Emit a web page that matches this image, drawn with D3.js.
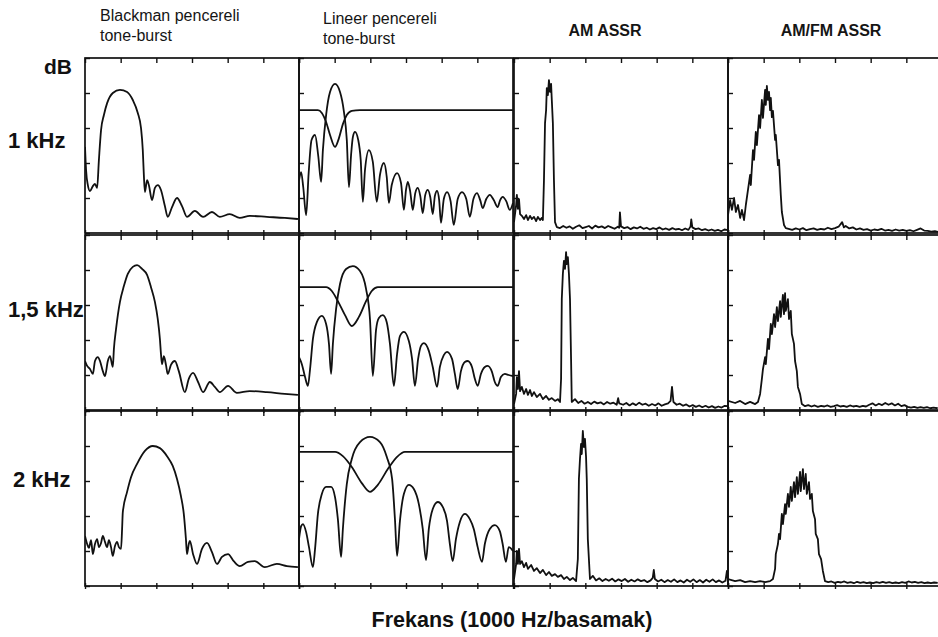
<!DOCTYPE html>
<html>
<head>
<meta charset="utf-8">
<script src="https://cdn.jsdelivr.net/npm/d3@7"></script>
<style>
  body { margin: 0; background: #fff; }
  .frame { fill: none; stroke: #111; stroke-width: 1.7; }
  .curve { fill: none; stroke: #111; stroke-width: 1.8; stroke-linejoin: round; }
  .tick line { stroke: #111; stroke-width: 1.4; }
</style>
</head>
<body>
<div id="chart"></div>
<script>
// frame and panel layout
const FRAME_WIDTH = 938;
const FRAME_HEIGHT = 637;
const COL_X = [85, 299, 514, 728];
const ROW_Y = [58, 235, 411];
const PANEL_W = 214;
const PANEL_H = 175;

// labels
const COLUMN_TITLES = [["Blackman pencereli", "tone-burst"], ["Lineer pencereli", "tone-burst"], ["AM ASSR"], ["AM/FM ASSR"]];
const ROW_LABELS = ["1 kHz", "1,5 kHz", "2 kHz"];
const Y_UNIT = "dB";
const X_TITLE = "Frekans (1000 Hz/basamak)";

// grid ticks: x in steps of 1000 Hz, y in 10 dB divisions
const X_TICKS = [0, 1, 2, 3, 4, 5, 6];
const Y_TICKS = [0, 10, 20, 30, 40, 50];

// spectra, [frequency step, dB]
const BLACKMAN_1K = [[0,24.6],[0.03,18.0],[0.08,13.7],[0.14,12.0],[0.22,13.4],[0.28,14.0],[0.34,12.9],[0.39,20.9],[0.45,29.4],[0.53,33.7],[0.62,37.1],[0.78,40.0],[0.98,40.9],[1.18,40.3],[1.34,38.0],[1.48,34.3],[1.57,30.0],[1.62,23.7],[1.65,16.6],[1.68,11.7],[1.74,15.1],[1.79,13.7],[1.88,9.4],[1.96,12.9],[2.04,13.7],[2.13,12.3],[2.24,7.7],[2.32,4.6],[2.44,7.4],[2.58,10.0],[2.72,7.7],[2.86,4.6],[3.08,6.3],[3.31,4.6],[3.56,6.0],[3.78,4.6],[4.06,5.4],[4.34,4.3],[4.62,4.9],[5.10,4.6],[5.60,4.3],[5.97,4.0]];
const BLACKMAN_15K = [[0,14.0],[0.06,12.6],[0.14,11.7],[0.22,10.3],[0.28,14.0],[0.36,15.1],[0.42,14.0],[0.50,11.1],[0.56,9.7],[0.64,14.0],[0.70,15.4],[0.76,12.9],[0.78,12.3],[0.81,17.4],[0.87,23.1],[0.98,30.9],[1.09,35.4],[1.20,38.9],[1.34,40.9],[1.46,41.4],[1.60,40.3],[1.74,38.6],[1.85,35.1],[1.96,30.9],[2.04,26.0],[2.10,20.3],[2.13,16.0],[2.16,13.1],[2.21,15.4],[2.27,12.9],[2.32,10.3],[2.41,12.9],[2.52,14.0],[2.63,11.1],[2.80,5.1],[2.91,8.9],[3.03,10.6],[3.17,8.0],[3.31,5.1],[3.50,8.0],[3.64,6.6],[3.78,5.1],[4.01,6.9],[4.26,4.9],[4.62,5.4],[5.10,5.1],[5.60,4.6],[5.97,4.3]];
const BLACKMAN_2K = [[0,14.3],[0.06,12.0],[0.11,10.9],[0.17,13.1],[0.22,9.1],[0.28,12.0],[0.34,13.4],[0.39,11.1],[0.45,12.3],[0.50,14.3],[0.56,12.6],[0.62,11.1],[0.67,13.1],[0.73,11.1],[0.78,8.6],[0.84,11.4],[0.90,12.6],[0.95,11.1],[1.01,10.6],[1.04,16.3],[1.06,21.1],[1.18,26.9],[1.29,31.1],[1.46,34.9],[1.68,38.6],[1.90,40.0],[2.10,39.4],[2.30,37.1],[2.46,34.3],[2.58,30.6],[2.69,25.7],[2.77,20.6],[2.83,13.4],[2.86,9.1],[2.91,12.0],[2.94,12.9],[3.03,9.1],[3.14,6.3],[3.28,10.6],[3.42,12.3],[3.56,9.7],[3.70,6.3],[3.84,8.3],[4.01,9.1],[4.17,7.1],[4.34,5.7],[4.57,6.9],[4.76,7.1],[5.04,5.4],[5.38,6.3],[5.66,5.7],[5.97,5.4]];

const LINEAR_1K_WINDOW = [[0,35.1],[0.53,35.1],[0.64,34.3],[0.76,31.7],[0.87,28.0],[1.01,24.6],[1.12,27.1],[1.23,31.1],[1.34,33.7],[1.48,34.9],[1.71,35.1],[6.0,35.1]];
const LINEAR_1K = [[0,15.0],[0.06,17.4],[0.12,13.0],[0.20,5.1],[0.27,17.0],[0.35,26.5],[0.45,28.0],[0.54,22.0],[0.62,14.6],[0.67,23.7],[0.76,33.7],[0.87,40.3],[1.01,42.6],[1.15,40.3],[1.26,34.6],[1.34,26.6],[1.40,13.1],[1.46,22.3],[1.51,27.4],[1.57,28.9],[1.66,26.6],[1.73,20.9],[1.79,8.9],[1.85,18.0],[1.96,23.7],[2.07,20.3],[2.18,8.9],[2.27,16.6],[2.38,20.0],[2.46,16.0],[2.52,8.6],[2.60,13.7],[2.75,17.1],[2.86,14.3],[2.94,6.6],[3.00,12.3],[3.05,14.6],[3.12,11.7],[3.19,6.6],[3.26,11.4],[3.33,12.9],[3.40,10.6],[3.47,5.7],[3.54,10.9],[3.61,12.3],[3.68,10.3],[3.75,5.4],[3.81,10.6],[3.87,12.0],[3.93,9.4],[3.98,2.9],[4.06,9.7],[4.15,11.7],[4.25,9.1],[4.34,2.3],[4.45,9.7],[4.57,11.7],[4.69,9.7],[4.79,4.6],[4.89,9.7],[4.99,11.4],[5.08,9.4],[5.15,7.1],[5.25,9.7],[5.35,10.9],[5.46,9.4],[5.57,7.4],[5.64,9.4],[5.71,10.3],[5.81,9.1],[5.91,6.6],[6.0,8.6]];
const LINEAR_15K_WINDOW = [[0,35.1],[0.76,35.1],[0.92,34.0],[1.09,31.1],[1.29,27.1],[1.48,24.0],[1.68,26.6],[1.88,31.1],[2.04,34.0],[2.21,35.1],[6.0,35.1]];
const LINEAR_15K = [[0,15.1],[0.08,13.1],[0.17,9.4],[0.25,6.9],[0.31,11.7],[0.39,20.3],[0.50,25.1],[0.64,26.9],[0.76,24.6],[0.84,18.9],[0.90,10.3],[0.95,18.9],[1.04,28.9],[1.15,36.0],[1.32,40.3],[1.51,41.1],[1.71,39.7],[1.88,34.6],[1.99,26.0],[2.07,9.7],[2.16,22.9],[2.24,26.3],[2.35,27.1],[2.46,25.1],[2.55,18.9],[2.66,6.9],[2.75,16.0],[2.83,21.1],[2.94,22.3],[3.08,19.7],[3.17,14.6],[3.25,6.9],[3.34,14.6],[3.42,18.3],[3.50,19.1],[3.64,16.9],[3.75,12.3],[3.87,6.6],[3.95,12.3],[4.06,15.7],[4.15,16.6],[4.29,14.6],[4.37,10.3],[4.45,6.0],[4.54,11.1],[4.65,13.7],[4.73,14.0],[4.85,12.3],[4.93,8.9],[5.01,6.9],[5.10,10.3],[5.21,12.3],[5.29,12.6],[5.41,10.9],[5.49,8.0],[5.57,6.9],[5.66,9.4],[5.77,10.3],[5.88,10.0],[6.0,9.7]];
const LINEAR_2K_WINDOW = [[0,38.3],[1.01,38.3],[1.23,37.1],[1.48,34.0],[1.76,29.4],[1.99,26.9],[2.21,28.9],[2.49,33.4],[2.75,36.9],[2.97,38.3],[6.0,38.3]];
const LINEAR_2K = [[0,13.4],[0.06,17.1],[0.11,17.7],[0.20,15.4],[0.28,11.1],[0.39,5.4],[0.45,10.6],[0.53,20.6],[0.64,26.3],[0.76,28.3],[0.90,28.3],[1.01,25.4],[1.09,19.1],[1.18,8.3],[1.23,16.3],[1.34,29.1],[1.48,36.3],[1.71,41.1],[1.99,42.6],[2.27,41.1],[2.46,36.9],[2.61,30.6],[2.69,19.1],[2.75,8.6],[2.83,18.6],[2.94,26.3],[3.08,28.9],[3.22,27.7],[3.36,23.4],[3.47,16.3],[3.56,7.4],[3.64,16.3],[3.75,22.0],[3.89,24.0],[4.03,22.6],[4.15,18.6],[4.23,12.0],[4.31,7.1],[4.40,13.4],[4.51,18.3],[4.65,20.6],[4.79,19.1],[4.90,16.3],[5.01,11.1],[5.13,6.9],[5.21,12.0],[5.35,16.3],[5.49,17.4],[5.63,15.7],[5.71,12.0],[5.80,6.9],[5.88,11.1],[6.0,10.0]];

const AM_1K = [[0,3.1],[0.06,8.0],[0.08,10.9],[0.11,6.9],[0.14,9.7],[0.17,5.4],[0.22,4.9],[0.28,4.0],[0.34,5.1],[0.39,3.7],[0.45,4.9],[0.50,4.0],[0.56,4.6],[0.62,3.4],[0.67,4.6],[0.73,3.7],[0.78,4.3],[0.81,3.7],[0.84,15.1],[0.87,31.4],[0.90,35.1],[0.92,41.4],[0.95,39.4],[0.98,43.7],[1.01,40.3],[1.04,42.6],[1.06,38.0],[1.09,31.4],[1.12,15.1],[1.15,3.1],[1.20,1.7],[1.29,1.4],[1.38,2.0],[1.47,1.5],[1.56,1.9],[1.65,1.2],[1.74,1.8],[1.83,2.2],[1.92,1.4],[2.01,1.7],[2.10,2.0],[2.19,1.3],[2.28,2.1],[2.37,1.6],[2.46,1.9],[2.55,1.4],[2.64,2.0],[2.73,1.6],[2.82,1.2],[2.91,1.8],[2.95,1.5],[2.97,5.9],[3.00,1.9],[3.09,1.4],[3.18,1.7],[3.27,1.1],[3.36,1.6],[3.45,1.3],[3.54,1.8],[3.63,1.2],[3.72,1.5],[3.81,1.0],[3.90,1.4],[3.99,1.1],[4.08,1.6],[4.17,1.0],[4.26,1.3],[4.35,0.9],[4.44,1.4],[4.53,1.0],[4.62,1.2],[4.71,0.8],[4.80,1.3],[4.89,0.9],[4.95,1.9],[4.97,3.9],[5.00,1.6],[5.09,1.1],[5.18,1.3],[5.27,0.8],[5.36,1.1],[5.45,0.7],[5.54,1.0],[5.63,0.6],[5.72,0.9],[5.81,0.5],[5.90,1.0],[6.00,0.8]];
const AM_15K = [[0,1.7],[0.06,4.6],[0.08,9.4],[0.11,6.0],[0.14,11.1],[0.17,5.4],[0.22,6.6],[0.28,4.6],[0.34,6.0],[0.39,4.3],[0.45,5.7],[0.50,4.0],[0.56,5.1],[0.64,3.7],[0.73,4.6],[0.81,3.1],[0.90,4.0],[0.98,2.9],[1.06,3.4],[1.15,2.6],[1.23,3.1],[1.29,2.3],[1.32,8.9],[1.34,31.7],[1.37,38.9],[1.40,42.6],[1.43,40.3],[1.46,45.1],[1.48,41.7],[1.51,43.7],[1.54,38.9],[1.57,31.7],[1.60,14.6],[1.62,2.3],[1.71,3.1],[1.80,2.0],[1.89,2.6],[1.98,1.8],[2.07,2.3],[2.16,1.7],[2.25,2.4],[2.34,1.9],[2.43,2.2],[2.52,1.6],[2.61,2.3],[2.70,1.8],[2.79,2.1],[2.88,1.5],[2.92,3.4],[2.95,1.9],[3.06,1.5],[3.15,2.0],[3.24,1.3],[3.33,1.9],[3.42,1.4],[3.51,2.1],[3.60,1.5],[3.69,1.8],[3.78,1.2],[3.87,1.7],[3.96,1.3],[4.05,1.9],[4.14,1.2],[4.23,1.6],[4.32,1.9],[4.39,2.6],[4.43,6.6],[4.47,2.3],[4.56,1.5],[4.65,1.8],[4.74,1.2],[4.83,1.6],[4.92,1.0],[5.01,1.4],[5.10,0.9],[5.19,1.3],[5.28,0.8],[5.37,1.2],[5.46,0.7],[5.55,1.1],[5.64,0.6],[5.73,1.0],[5.82,0.7],[5.91,1.2],[6.00,1.1]];
const AM_2K = [[0,2.0],[0.06,6.3],[0.08,10.0],[0.11,6.3],[0.14,10.6],[0.17,6.3],[0.22,7.1],[0.28,5.4],[0.34,6.6],[0.39,4.9],[0.48,6.0],[0.56,4.3],[0.64,5.1],[0.73,3.7],[0.81,4.6],[0.90,3.1],[0.98,4.0],[1.06,2.9],[1.15,3.4],[1.23,2.6],[1.32,3.1],[1.40,2.0],[1.48,2.6],[1.57,1.7],[1.65,2.3],[1.74,1.4],[1.79,7.7],[1.82,30.6],[1.85,36.3],[1.88,40.6],[1.90,37.7],[1.93,44.3],[1.96,39.7],[1.99,42.0],[2.02,36.9],[2.04,30.6],[2.07,13.4],[2.13,2.0],[2.21,2.9],[2.30,1.6],[2.39,2.2],[2.48,1.4],[2.57,2.0],[2.66,1.5],[2.75,2.1],[2.84,1.3],[2.93,1.9],[3.02,1.4],[3.11,2.0],[3.20,1.2],[3.29,1.8],[3.38,1.3],[3.47,1.9],[3.56,1.4],[3.65,1.7],[3.74,1.1],[3.83,1.6],[3.89,2.3],[3.92,4.6],[3.95,2.0],[4.04,1.3],[4.13,1.8],[4.22,1.1],[4.31,1.7],[4.40,1.2],[4.49,1.9],[4.58,1.1],[4.67,1.6],[4.76,1.0],[4.85,1.8],[4.94,1.2],[5.03,1.9],[5.12,1.1],[5.21,1.7],[5.30,1.0],[5.39,1.8],[5.48,1.2],[5.57,1.9],[5.66,1.1],[5.75,1.6],[5.84,1.0],[5.93,1.5],[5.97,4.3],[6.00,1.8]];

const AMFM_1K = [[0,5.1],[0.06,9.4],[0.11,6.6],[0.17,10.0],[0.22,6.0],[0.28,8.0],[0.34,4.3],[0.39,6.6],[0.45,3.7],[0.50,8.0],[0.56,12.3],[0.62,16.6],[0.64,13.7],[0.70,23.7],[0.73,20.9],[0.78,28.9],[0.81,25.1],[0.87,33.7],[0.90,30.0],[0.95,38.0],[0.98,32.9],[1.04,40.9],[1.06,36.6],[1.09,42.0],[1.12,38.0],[1.15,40.3],[1.18,35.1],[1.20,38.6],[1.23,33.1],[1.26,34.9],[1.32,26.6],[1.34,28.0],[1.40,19.4],[1.43,20.9],[1.48,10.9],[1.51,6.0],[1.57,2.3],[1.62,1.4],[1.70,1.2],[1.80,0.9],[1.90,1.3],[2.00,1.0],[2.10,1.4],[2.20,0.8],[2.30,1.1],[2.40,1.3],[2.50,0.9],[2.60,1.2],[2.70,1.0],[2.80,1.5],[2.90,1.1],[3.00,1.4],[3.10,1.8],[3.20,3.1],[3.25,1.6],[3.30,2.0],[3.40,1.3],[3.50,1.6],[3.60,1.0],[3.70,1.3],[3.80,0.9],[3.90,1.1],[4.00,0.7],[4.10,1.0],[4.20,0.8],[4.30,1.2],[4.40,0.7],[4.50,0.9],[4.60,0.6],[4.70,1.0],[4.80,0.7],[4.90,0.9],[5.00,0.6],[5.10,0.8],[5.20,0.5],[5.30,0.9],[5.40,1.3],[5.50,0.7],[5.60,0.6],[5.70,0.4],[5.80,0.5],[5.90,0.3]];
const AMFM_15K = [[0,2.6],[0.20,2.0],[0.34,2.6],[0.48,1.7],[0.62,2.3],[0.76,1.7],[0.84,2.3],[0.90,4.6],[0.95,8.9],[0.98,11.7],[1.04,15.1],[1.06,13.1],[1.12,20.3],[1.15,17.4],[1.20,24.6],[1.23,21.7],[1.29,27.4],[1.32,23.7],[1.37,29.4],[1.40,25.4],[1.46,31.1],[1.48,26.6],[1.54,32.9],[1.57,27.4],[1.60,33.4],[1.62,28.3],[1.68,31.7],[1.71,26.0],[1.76,28.3],[1.79,21.7],[1.85,18.9],[1.88,14.0],[1.93,11.1],[1.96,6.6],[2.02,4.6],[2.07,1.7],[2.16,1.1],[2.25,1.4],[2.34,1.0],[2.43,1.3],[2.52,0.9],[2.61,1.2],[2.70,1.0],[2.79,1.3],[2.88,0.9],[2.97,1.1],[3.06,1.4],[3.15,1.0],[3.24,1.2],[3.33,0.9],[3.42,1.3],[3.51,1.0],[3.60,1.2],[3.69,0.9],[3.78,1.2],[3.87,1.0],[3.96,1.5],[4.05,1.9],[4.14,1.3],[4.23,1.8],[4.32,1.4],[4.41,2.0],[4.50,1.5],[4.59,1.9],[4.68,1.3],[4.77,1.8],[4.86,1.1],[4.95,1.4],[5.04,0.9],[5.13,0.7],[5.22,0.9],[5.31,0.6],[5.40,0.8],[5.49,0.6],[5.58,0.8],[5.67,0.5],[5.76,0.7],[5.88,0.5]];
const AMFM_2K = [[0,2.0],[0.20,1.4],[0.34,1.7],[0.48,1.1],[0.62,1.4],[0.76,1.1],[0.90,1.4],[1.04,1.1],[1.18,1.4],[1.26,2.0],[1.32,4.9],[1.34,9.1],[1.40,12.0],[1.43,14.9],[1.46,13.4],[1.51,20.6],[1.54,17.7],[1.60,23.4],[1.62,20.6],[1.68,26.3],[1.71,22.6],[1.76,28.3],[1.79,24.3],[1.85,29.7],[1.88,25.4],[1.93,31.1],[1.96,26.3],[2.02,32.6],[2.04,27.1],[2.10,33.4],[2.13,27.7],[2.18,32.0],[2.21,26.3],[2.27,29.7],[2.30,24.9],[2.35,26.3],[2.38,21.4],[2.44,19.1],[2.46,14.9],[2.52,13.4],[2.55,9.1],[2.61,7.7],[2.66,4.3],[2.72,1.4],[2.81,1.1],[2.90,1.3],[2.99,0.9],[3.08,1.2],[3.17,1.0],[3.26,1.3],[3.35,0.9],[3.44,1.1],[3.53,0.8],[3.62,1.2],[3.71,0.9],[3.80,1.1],[3.89,0.8],[3.98,1.0],[4.07,0.8],[4.16,1.1],[4.25,0.9],[4.34,1.2],[4.43,0.9],[4.52,1.1],[4.61,0.8],[4.70,1.0],[4.79,0.8],[4.88,1.1],[4.97,0.9],[5.06,1.3],[5.15,1.0],[5.24,1.2],[5.33,0.9],[5.42,1.1],[5.51,0.8],[5.60,1.0],[5.69,0.8],[5.78,1.0],[5.88,0.9]];

// which curves go in which cell (columns x rows)
const GRID = [
  [[BLACKMAN_1K], [BLACKMAN_15K], [BLACKMAN_2K]],
  [[LINEAR_1K_WINDOW, LINEAR_1K], [LINEAR_15K_WINDOW, LINEAR_15K], [LINEAR_2K_WINDOW, LINEAR_2K]],
  [[AM_1K], [AM_15K], [AM_2K]],
  [[AMFM_1K], [AMFM_15K], [AMFM_2K]]
];

function build_figure() {
  const svg = d3.select("#chart")
    .append("svg")
    .attr("width", FRAME_WIDTH)
    .attr("height", FRAME_HEIGHT)
    .style("display", "block");

  const xScale = d3.scaleLinear().domain([0, 6]).range([0, PANEL_W]);
  const yScale = d3.scaleLinear().domain([0, 50]).range([PANEL_H, 0]);

  const smoothLine = d3.line()
    .x(d => xScale(d[0]))
    .y(d => yScale(d[1]))
    .curve(d3.curveMonotoneX);
  const rawLine = d3.line()
    .x(d => xScale(d[0]))
    .y(d => yScale(d[1]));

  svg.append("defs").append("clipPath")
    .attr("id", "panel-clip")
    .append("rect")
    .attr("width", PANEL_W)
    .attr("height", PANEL_H);

  GRID.forEach((column, c) => {
    column.forEach((curves, r) => {
      const g = svg.append("g")
        .attr("transform", "translate(" + COL_X[c] + "," + ROW_Y[r] + ")");

      // the two windowed tone-bursts are smooth, the ASSR spectra are jagged
      const line = c < 2 ? smoothLine : rawLine;
      g.append("g")
        .attr("clip-path", "url(#panel-clip)")
        .selectAll("path")
        .data(curves)
        .enter()
        .append("path")
        .attr("class", "curve")
        .attr("d", line);

      // inward ticks on top and left, crossing ticks at the bottom
      g.append("g")
        .call(d3.axisTop(xScale).tickValues(X_TICKS).tickSize(-5).tickFormat(""))
        .call(a => a.select(".domain").remove());
      g.append("g")
        .call(d3.axisLeft(yScale).tickValues(Y_TICKS).tickSize(-5).tickFormat(""))
        .call(a => a.select(".domain").remove());
      g.append("g")
        .attr("transform", "translate(0," + PANEL_H + ")")
        .call(d3.axisBottom(xScale).tickValues(X_TICKS).tickSize(3).tickFormat(""))
        .call(a => a.select(".domain").remove())
        .call(a => a.selectAll(".tick line").attr("y1", -3));

      g.append("rect")
        .attr("class", "frame")
        .attr("width", PANEL_W)
        .attr("height", PANEL_H);
    });
  });

  // column titles
  const narrow = "'Liberation Sans Narrow', 'Arial Narrow', 'Liberation Sans', sans-serif";
  const titlePos = [{x: 100, y: 21, anchor: "start"}, {x: 323, y: 24, anchor: "start"},
                    {x: 605, y: 36, anchor: "middle"}, {x: 831, y: 36, anchor: "middle"}];
  COLUMN_TITLES.forEach((lines, i) => {
    const t = svg.append("text")
      .attr("x", titlePos[i].x)
      .attr("y", titlePos[i].y)
      .attr("text-anchor", titlePos[i].anchor)
      .attr("font-family", narrow)
      .attr("font-size", 16)
      .attr("font-weight", i < 2 ? "normal" : "bold")
      .attr("fill", "#151515");
    lines.forEach((s, k) => {
      t.append("tspan")
        .attr("x", titlePos[i].x)
        .attr("dy", k === 0 ? 0 : 20)
        .text(s);
    });
  });

  // y unit and row labels
  svg.append("text")
    .attr("x", 72).attr("y", 74)
    .attr("text-anchor", "end")
    .attr("font-family", "'Liberation Sans', Arial, sans-serif")
    .attr("font-weight", "bold")
    .attr("font-size", 21)
    .attr("fill", "#111")
    .text(Y_UNIT);

  const rowBase = [148, 317, 487];
  const rowX = [8, 8, 13];
  ROW_LABELS.forEach((s, i) => {
    svg.append("text")
      .attr("x", rowX[i]).attr("y", rowBase[i])
      .attr("font-family", "'Liberation Sans', Arial, sans-serif")
      .attr("font-weight", "bold")
      .attr("font-size", 22)
      .attr("fill", "#111")
      .text(s);
  });

  // x axis title
  svg.append("text")
    .attr("x", 512).attr("y", 627)
    .attr("text-anchor", "middle")
    .attr("font-family", "'Liberation Sans', Arial, sans-serif")
    .attr("font-weight", "bold")
    .attr("font-size", 21.5)
    .attr("fill", "#111")
    .text(X_TITLE);
}

build_figure();
</script>
</body>
</html>
